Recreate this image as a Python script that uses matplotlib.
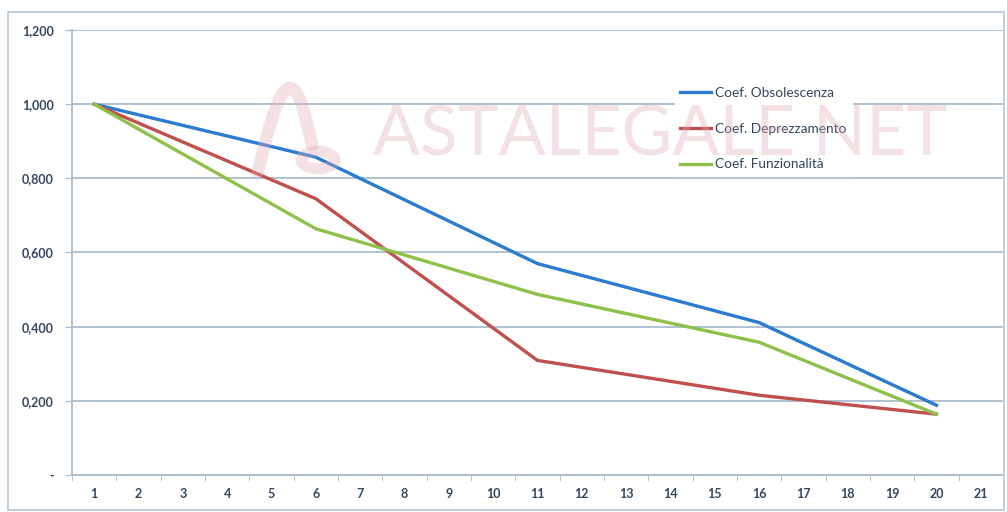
import matplotlib
matplotlib.use('Agg')
import matplotlib.pyplot as plt
from matplotlib.patches import Rectangle, Circle, PathPatch
from matplotlib.path import Path
from matplotlib.ticker import FuncFormatter, MultipleLocator

# categorie (anni) e valori
categorie = list(range(1, 22))
anni_punti = [1, 6, 11, 16, 20]
obsolescenza = [1.000, 0.857, 0.570, 0.411, 0.188]
deprezzamento = [1.000, 0.745, 0.309, 0.215, 0.164]
funzionalita = [1.000, 0.664, 0.487, 0.358, 0.164]

serie = [
    ('Coef. Obsolescenza', obsolescenza, '#2b7bd1'),
    ('Coef. Deprezzamento', deprezzamento, '#c0504d'),
    ('Coef. Funzionalità', funzionalita, '#8fc04a'),
]

col_testo = '#33475e'
col_griglia = '#a9bccd'
col_filigrana = '#e2a9b1'
alpha_fil = 0.35

W, H = 1007, 512
fig = plt.figure(figsize=(W / 100, H / 100), dpi=100)
ax = fig.add_axes([72 / W, 37 / H, 931 / W, 445 / H])

# bordo dell'area grafico
fig.patches.append(Rectangle((8 / W, 2 / H), 996 / W, 498 / H,
                             transform=fig.transFigure, fill=False,
                             edgecolor='#b7c6d4', linewidth=1.2))

for nome, valori, colore in serie:
    ax.plot(anni_punti, valori, color=colore, linewidth=2.4, label=nome,
            solid_joinstyle='round', zorder=3)

ax.set_xlim(0.5, 21.5)
ax.set_ylim(0, 1.2)
ax.yaxis.set_major_locator(MultipleLocator(0.2))
ax.yaxis.set_major_formatter(FuncFormatter(
    lambda v, p: '-' if abs(v) < 1e-9 else f'{v:.3f}'.replace('.', ',')))
ax.set_xticks(categorie)
ax.set_xticks([c + 0.5 for c in range(0, 21)], minor=True)
ax.tick_params(axis='x', which='major', length=0, pad=9)
ax.tick_params(axis='x', which='minor', length=4, color=col_griglia, direction='out')
ax.tick_params(axis='y', length=5, color=col_griglia, pad=8)
for lab in ax.get_xticklabels() + ax.get_yticklabels():
    lab.set_fontsize(9)
    lab.set_fontweight('bold')
    lab.set_color(col_testo)
    lab.set_family('Lato')

ax.grid(axis='y', color=col_griglia, linewidth=1.3, zorder=1)
ax.set_axisbelow(True)
for s in ['top', 'right']:
    ax.spines[s].set_visible(False)
for s in ['left', 'bottom']:
    ax.spines[s].set_color(col_griglia)
    ax.spines[s].set_linewidth(1.3)

leg = ax.legend(loc='upper left', bbox_to_anchor=(0.64, 0.90), frameon=True,
                framealpha=1, edgecolor='white', fancybox=False,
                handlelength=2.3, handletextpad=0.25, labelspacing=1.75,
                prop={'family': 'Lato', 'size': 9.8})
leg.set_zorder(4)
for t in leg.get_texts():
    t.set_color(col_testo)

# filigrana sopra il grafico, semitrasparente
fig.text(660 / W, 1 - 136 / H, 'ASTALEGALE NET', fontsize=50, color=col_filigrana,
         alpha=alpha_fil, ha='center', va='center', family='Lato', zorder=10)
logo = Path([(258, 172), (270, 120), (280, 88), (290, 88),
             (300, 88), (306, 120), (312, 145)],
            [Path.MOVETO, Path.CURVE4, Path.CURVE4, Path.CURVE4,
             Path.CURVE4, Path.CURVE4, Path.CURVE4])
logo = Path([(x / W, 1 - y / H) for x, y in logo.vertices], logo.codes)
fig.patches.append(PathPatch(logo, transform=fig.transFigure, fill=False,
                             edgecolor=col_filigrana, linewidth=9, alpha=alpha_fil,
                             capstyle='round', zorder=10))
fig.patches.append(Circle((318 / W, 1 - 160 / H), 17 / W, transform=fig.transFigure,
                          fill=False, edgecolor=col_filigrana, linewidth=8,
                          alpha=alpha_fil, zorder=10))

fig.savefig('out.png', dpi=100)
